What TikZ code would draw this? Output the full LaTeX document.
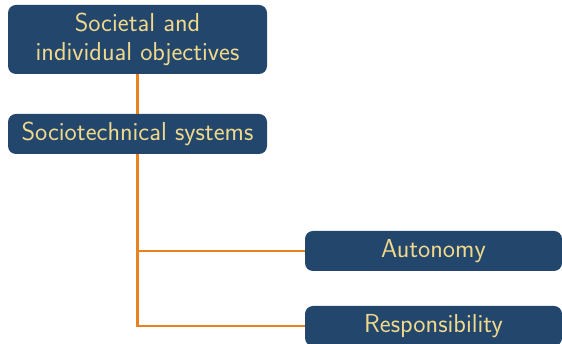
\documentclass[tikz,border=0pt]{standalone}
\usepackage{tikz}
\renewcommand{\familydefault}{\sfdefault}
\definecolor{boxblue}{RGB}{34,70,108}
\definecolor{boxtext}{RGB}{240,216,140}
\definecolor{linkorange}{RGB}{232,130,30}

\begin{document}
\begin{tikzpicture}[x=1pt,y=1pt,
	box/.style={rectangle,rounded corners=8pt,fill=boxblue,text=boxtext,minimum width=259pt,minimum height=40pt,font=\fontsize{26}{29}\selectfont,align=center},
	link/.style={draw=linkorange,line width=2.5pt}]
			\useasboundingbox (0,0) rectangle (562,344);
			\node[box,minimum height=69pt] (obj) at (137.5,304.5) {Societal and\\individual objectives};
			\node[box] (soc) at (137.5,210) {Sociotechnical systems};
			\node[box,minimum width=257pt] (aut) at (433.5,93) {Autonomy};
			\node[box,minimum width=257pt] (res) at (433.5,18) {Responsibility};
			\coordinate (ka) at (soc.south |- aut.west);
			\coordinate (kr) at (soc.south |- res.west);
			\draw[link](obj)--(soc);
			\draw[link](soc.south)--(kr)--(res.west);
			\draw[link](ka)--(aut.west);
		\end{tikzpicture}
\end{document}
